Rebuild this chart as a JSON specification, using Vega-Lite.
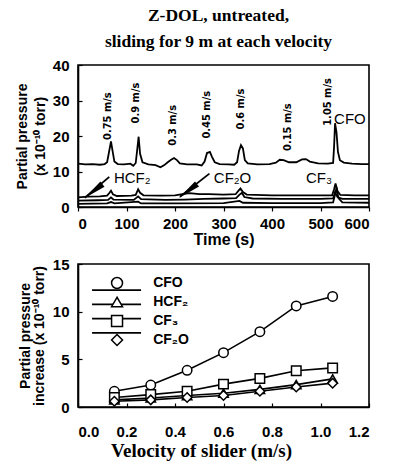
{
  "$schema": "https://vega.github.io/schema/vega-lite/v6.json",
  "background": "white",
  "padding": {"left": 14, "right": 5, "top": 5, "bottom": 5},
  "config": {
    "font": "Liberation Sans",
    "view": {"stroke": "black", "strokeWidth": 1.6},
    "axis": {"domainColor": "black", "domainWidth": 1.6, "tickColor": "black", "tickWidth": 1.2, "labelColor": "black", "titleColor": "black", "grid": false, "labelFontWeight": "bold", "labelFontSize": 15, "titleFontWeight": "bold", "titleFontSize": 14, "labelFont": "Liberation Sans", "titleFont": "Liberation Sans"},
    "concat": {"spacing": 8}
  },
  "datasets": {
    "traces": [
      {"species": "CFO", "time": 0, "value": 12.2}, {"species": "CFO", "time": 15, "value": 12.0}, {"species": "CFO", "time": 30, "value": 12.1}, {"species": "CFO", "time": 45, "value": 11.9}, {"species": "CFO", "time": 55, "value": 12.1}, {"species": "CFO", "time": 60, "value": 12.6}, {"species": "CFO", "time": 64, "value": 15.5}, {"species": "CFO", "time": 68, "value": 18.5}, {"species": "CFO", "time": 71, "value": 16}, {"species": "CFO", "time": 75, "value": 12.8}, {"species": "CFO", "time": 82, "value": 12.1}, {"species": "CFO", "time": 95, "value": 12.0}, {"species": "CFO", "time": 108, "value": 12.2}, {"species": "CFO", "time": 114, "value": 11.6}, {"species": "CFO", "time": 119, "value": 12.4}, {"species": "CFO", "time": 122, "value": 16}, {"species": "CFO", "time": 125, "value": 19.8}, {"species": "CFO", "time": 128, "value": 15}, {"species": "CFO", "time": 133, "value": 12.6}, {"species": "CFO", "time": 145, "value": 12.0}, {"species": "CFO", "time": 160, "value": 11.8}, {"species": "CFO", "time": 170, "value": 11.2}, {"species": "CFO", "time": 178, "value": 11.8}, {"species": "CFO", "time": 185, "value": 12.6}, {"species": "CFO", "time": 192, "value": 13.3}, {"species": "CFO", "time": 198, "value": 13.8}, {"species": "CFO", "time": 204, "value": 13.2}, {"species": "CFO", "time": 210, "value": 12.3}, {"species": "CFO", "time": 225, "value": 12.0}, {"species": "CFO", "time": 245, "value": 12.0}, {"species": "CFO", "time": 255, "value": 11.7}, {"species": "CFO", "time": 261, "value": 12.8}, {"species": "CFO", "time": 266, "value": 15.2}, {"species": "CFO", "time": 272, "value": 15.5}, {"species": "CFO", "time": 276, "value": 14.2}, {"species": "CFO", "time": 282, "value": 12.6}, {"species": "CFO", "time": 292, "value": 12.1}, {"species": "CFO", "time": 310, "value": 12.0}, {"species": "CFO", "time": 322, "value": 11.9}, {"species": "CFO", "time": 328, "value": 12.6}, {"species": "CFO", "time": 332, "value": 15.8}, {"species": "CFO", "time": 336, "value": 17.4}, {"species": "CFO", "time": 340, "value": 16.5}, {"species": "CFO", "time": 344, "value": 13.2}, {"species": "CFO", "time": 350, "value": 12.3}, {"species": "CFO", "time": 370, "value": 12.0}, {"species": "CFO", "time": 395, "value": 12.1}, {"species": "CFO", "time": 408, "value": 12.5}, {"species": "CFO", "time": 416, "value": 13.3}, {"species": "CFO", "time": 424, "value": 13.2}, {"species": "CFO", "time": 435, "value": 12.6}, {"species": "CFO", "time": 450, "value": 12.6}, {"species": "CFO", "time": 462, "value": 13.4}, {"species": "CFO", "time": 470, "value": 13.5}, {"species": "CFO", "time": 478, "value": 12.8}, {"species": "CFO", "time": 495, "value": 12.3}, {"species": "CFO", "time": 515, "value": 12.2}, {"species": "CFO", "time": 526, "value": 12.4}, {"species": "CFO", "time": 528, "value": 17}, {"species": "CFO", "time": 530, "value": 23.6}, {"species": "CFO", "time": 533, "value": 21}, {"species": "CFO", "time": 536, "value": 15.5}, {"species": "CFO", "time": 540, "value": 13.2}, {"species": "CFO", "time": 548, "value": 12.5}, {"species": "CFO", "time": 565, "value": 12.2}, {"species": "CFO", "time": 585, "value": 12.1}, {"species": "CFO", "time": 600, "value": 12.1},
      {"species": "HCF2", "time": 0, "value": 2.7}, {"species": "HCF2", "time": 20, "value": 2.9}, {"species": "HCF2", "time": 45, "value": 3.0}, {"species": "HCF2", "time": 60, "value": 3.2}, {"species": "HCF2", "time": 65, "value": 4.0}, {"species": "HCF2", "time": 68, "value": 4.6}, {"species": "HCF2", "time": 72, "value": 3.6}, {"species": "HCF2", "time": 80, "value": 3.1}, {"species": "HCF2", "time": 110, "value": 3.2}, {"species": "HCF2", "time": 119, "value": 3.4}, {"species": "HCF2", "time": 124, "value": 5.0}, {"species": "HCF2", "time": 128, "value": 4.0}, {"species": "HCF2", "time": 135, "value": 3.3}, {"species": "HCF2", "time": 170, "value": 3.2}, {"species": "HCF2", "time": 200, "value": 3.3}, {"species": "HCF2", "time": 215, "value": 3.6}, {"species": "HCF2", "time": 230, "value": 3.9}, {"species": "HCF2", "time": 250, "value": 3.6}, {"species": "HCF2", "time": 270, "value": 3.6}, {"species": "HCF2", "time": 300, "value": 3.5}, {"species": "HCF2", "time": 325, "value": 3.6}, {"species": "HCF2", "time": 331, "value": 4.6}, {"species": "HCF2", "time": 335, "value": 5.2}, {"species": "HCF2", "time": 340, "value": 4.2}, {"species": "HCF2", "time": 348, "value": 3.5}, {"species": "HCF2", "time": 400, "value": 3.3}, {"species": "HCF2", "time": 460, "value": 3.3}, {"species": "HCF2", "time": 524, "value": 3.3}, {"species": "HCF2", "time": 528, "value": 5.0}, {"species": "HCF2", "time": 531, "value": 6.6}, {"species": "HCF2", "time": 535, "value": 4.5}, {"species": "HCF2", "time": 541, "value": 3.4}, {"species": "HCF2", "time": 570, "value": 3.3}, {"species": "HCF2", "time": 600, "value": 3.3},
      {"species": "CF2O", "time": 0, "value": 1.8}, {"species": "CF2O", "time": 40, "value": 1.9}, {"species": "CF2O", "time": 62, "value": 2.0}, {"species": "CF2O", "time": 68, "value": 2.7}, {"species": "CF2O", "time": 73, "value": 2.1}, {"species": "CF2O", "time": 115, "value": 2.0}, {"species": "CF2O", "time": 124, "value": 3.0}, {"species": "CF2O", "time": 130, "value": 2.2}, {"species": "CF2O", "time": 180, "value": 2.0}, {"species": "CF2O", "time": 220, "value": 2.1}, {"species": "CF2O", "time": 260, "value": 2.3}, {"species": "CF2O", "time": 300, "value": 2.4}, {"species": "CF2O", "time": 326, "value": 2.5}, {"species": "CF2O", "time": 333, "value": 3.5}, {"species": "CF2O", "time": 338, "value": 4.0}, {"species": "CF2O", "time": 343, "value": 2.8}, {"species": "CF2O", "time": 360, "value": 2.4}, {"species": "CF2O", "time": 420, "value": 2.3}, {"species": "CF2O", "time": 500, "value": 2.3}, {"species": "CF2O", "time": 526, "value": 2.4}, {"species": "CF2O", "time": 530, "value": 4.2}, {"species": "CF2O", "time": 535, "value": 2.8}, {"species": "CF2O", "time": 545, "value": 2.3}, {"species": "CF2O", "time": 600, "value": 2.3},
      {"species": "CF3", "time": 0, "value": 0.9}, {"species": "CF3", "time": 60, "value": 1.0}, {"species": "CF3", "time": 68, "value": 1.4}, {"species": "CF3", "time": 75, "value": 1.0}, {"species": "CF3", "time": 124, "value": 1.5}, {"species": "CF3", "time": 130, "value": 1.0}, {"species": "CF3", "time": 200, "value": 1.0}, {"species": "CF3", "time": 300, "value": 1.1}, {"species": "CF3", "time": 333, "value": 1.7}, {"species": "CF3", "time": 340, "value": 1.2}, {"species": "CF3", "time": 400, "value": 1.1}, {"species": "CF3", "time": 500, "value": 1.1}, {"species": "CF3", "time": 526, "value": 1.3}, {"species": "CF3", "time": 530, "value": 3.5}, {"species": "CF3", "time": 533, "value": 5.5}, {"species": "CF3", "time": 537, "value": 2.5}, {"species": "CF3", "time": 545, "value": 1.3}, {"species": "CF3", "time": 600, "value": 1.2}
    ],
    "arrows": [
      {"species": "HCF2", "time": 64.5, "value": 8.5, "time2": 14, "value2": 2.6},
      {"species": "CF2O", "time": 271, "value": 9.4, "time2": 210, "value2": 2.9}
    ],
    "heads": [
      {"species": "HCF2", "time": 38, "value": 5.1},
      {"species": "CF2O", "time": 233, "value": 5.15}
    ],
    "velocities": [
      {"label": "0.75 m/s", "time": 61, "value": 25.6},
      {"label": "0.9 m/s", "time": 120, "value": 29.3},
      {"label": "0.3 m/s", "time": 195, "value": 23},
      {"label": "0.45 m/s", "time": 267, "value": 26},
      {"label": "0.6 m/s", "time": 337, "value": 27.6},
      {"label": "0.15 m/s", "time": 432, "value": 22.5},
      {"label": "1.05 m/s", "time": 515, "value": 29.6}
    ],
    "names": [
      {"label": "HCF₂", "time": 74, "value": 6.8},
      {"label": "CF₂O", "time": 280, "value": 6.8},
      {"label": "CF₃", "time": 470, "value": 6.8},
      {"label": "CFO", "time": 528, "value": 23.4}
    ],
    "increase": [
      {"species": "CFO", "velocity": 0.15, "value": 1.65}, {"species": "CFO", "velocity": 0.3, "value": 2.3}, {"species": "CFO", "velocity": 0.45, "value": 3.85}, {"species": "CFO", "velocity": 0.6, "value": 5.7}, {"species": "CFO", "velocity": 0.75, "value": 7.9}, {"species": "CFO", "velocity": 0.9, "value": 10.6}, {"species": "CFO", "velocity": 1.05, "value": 11.6},
      {"species": "HCF₂", "velocity": 0.15, "value": 0.75}, {"species": "HCF₂", "velocity": 0.3, "value": 0.95}, {"species": "HCF₂", "velocity": 0.45, "value": 1.2}, {"species": "HCF₂", "velocity": 0.6, "value": 1.45}, {"species": "HCF₂", "velocity": 0.75, "value": 1.85}, {"species": "HCF₂", "velocity": 0.9, "value": 2.35}, {"species": "HCF₂", "velocity": 1.05, "value": 2.95},
      {"species": "CF₃", "velocity": 0.15, "value": 1.0}, {"species": "CF₃", "velocity": 0.3, "value": 1.3}, {"species": "CF₃", "velocity": 0.45, "value": 1.65}, {"species": "CF₃", "velocity": 0.6, "value": 2.4}, {"species": "CF₃", "velocity": 0.75, "value": 3.0}, {"species": "CF₃", "velocity": 0.9, "value": 3.8}, {"species": "CF₃", "velocity": 1.05, "value": 4.1},
      {"species": "CF₂O", "velocity": 0.15, "value": 0.6}, {"species": "CF₂O", "velocity": 0.3, "value": 0.75}, {"species": "CF₂O", "velocity": 0.45, "value": 1.0}, {"species": "CF₂O", "velocity": 0.6, "value": 1.2}, {"species": "CF₂O", "velocity": 0.75, "value": 1.65}, {"species": "CF₂O", "velocity": 0.9, "value": 2.1}, {"species": "CF₂O", "velocity": 1.05, "value": 2.5}
    ]
  },
  "vconcat": [
    {
      "width": 291,
      "height": 142,
      "title": {"text": ["Z-DOL, untreated,", "sliding for 9 m at each velocity"], "font": "Liberation Serif", "fontSize": 17.5, "fontWeight": "bold", "lineHeight": 26, "anchor": "middle", "frame": "group", "offset": 8, "dx": -5, "color": "black"},
      "encoding": {
        "x": {"field": "time", "type": "quantitative", "scale": {"domain": [0, 600], "nice": false}, "axis": {"values": [0, 100, 200, 300, 400, 500, 600], "title": "Time (s)", "titleFontSize": 16, "tickSize": 4, "labelPadding": 5, "titlePadding": 0}},
        "y": {"field": "value", "type": "quantitative", "scale": {"domain": [0, 40], "nice": false}, "axis": {"values": [0, 10, 20, 30, 40], "title": ["Partial pressure", "(x 10⁻¹⁰ torr)"], "titleLineHeight": 18, "tickSize": -4, "labelPadding": 13, "titlePadding": 5}}
      },
      "layer": [
        {"data": {"name": "traces"}, "mark": {"type": "line", "color": "black", "strokeWidth": 1.8}, "encoding": {"detail": {"field": "species"}}},
        {"data": {"name": "arrows"}, "mark": {"type": "rule", "color": "black", "strokeWidth": 1.8}, "encoding": {"x2": {"field": "time2"}, "y2": {"field": "value2"}}},
        {"data": {"name": "heads"}, "mark": {"type": "point", "shape": "wedge", "angle": 232, "size": 700, "filled": true, "color": "black", "opacity": 1}},
        {"data": {"name": "velocities"}, "mark": {"type": "text", "angle": 270, "align": "center", "baseline": "middle", "font": "Liberation Sans Narrow, DejaVu Sans Condensed, Liberation Sans", "fontWeight": "bold", "fontSize": 11, "color": "black"}, "encoding": {"text": {"field": "label"}}},
        {"data": {"name": "names"}, "mark": {"type": "text", "align": "left", "baseline": "alphabetic", "fontSize": 15, "color": "black"}, "encoding": {"text": {"field": "label"}}}
      ]
    },
    {
      "width": 291,
      "height": 143,
      "data": {"name": "increase"},
      "encoding": {
        "x": {"field": "velocity", "type": "quantitative", "scale": {"domain": [0, 1.2], "nice": false}, "axis": {"values": [0, 0.2, 0.4, 0.6, 0.8, 1.0, 1.2], "format": ".1f", "title": "Velocity of slider (m/s)", "titleFont": "Liberation Serif", "titleFontSize": 19, "titleX": 123, "titleAlign": "center", "tickSize": -4, "labelPadding": 21, "titlePadding": 2}}
      },
      "layer": [
        {"mark": {"type": "line", "color": "black", "strokeWidth": 1.6},
          "encoding": {
            "y": {"field": "value", "type": "quantitative", "scale": {"domain": [0, 15], "nice": false}, "axis": {"values": [0, 5, 10, 15], "title": ["Partial pressure", "increase (x 10⁻¹⁰ torr)"], "titleLineHeight": 14, "tickSize": -4, "labelPadding": 13, "titlePadding": 6}},
            "detail": {"field": "species"}
          }
        },
        {"mark": {"type": "point", "filled": true, "fill": "white", "stroke": "black", "strokeWidth": 1.5, "size": 90, "opacity": 1},
          "encoding": {
            "y": {"field": "value", "type": "quantitative", "scale": {"domain": [0, 15], "nice": false}, "axis": null},
            "shape": {"field": "species", "type": "nominal", "scale": {"domain": ["CFO", "HCF₂", "CF₃", "CF₂O"], "range": ["circle", "triangle-up", "square", "diamond"]}, "legend": null}
          }
        },
        {"transform": [{"filter": "datum.velocity == 0.15"}],
          "mark": {"type": "rule", "color": "black", "strokeWidth": 1.6},
          "encoding": {
            "x": {"datum": 0.058, "type": "quantitative"},
            "x2": {"datum": 0.26},
            "y": {"field": "species", "type": "nominal", "scale": {"domain": ["CFO", "HCF₂", "CF₃", "CF₂O"], "range": [19, 76], "padding": 0}, "axis": null}
          }
        },
        {"transform": [{"filter": "datum.velocity == 0.15"}],
          "mark": {"type": "point", "filled": true, "fill": "white", "stroke": "black", "strokeWidth": 1.5, "size": 120, "opacity": 1},
          "encoding": {
            "x": {"datum": 0.161, "type": "quantitative"},
            "y": {"field": "species", "type": "nominal", "scale": {"domain": ["CFO", "HCF₂", "CF₃", "CF₂O"], "range": [19, 76], "padding": 0}, "axis": null},
            "shape": {"field": "species", "type": "nominal", "legend": null}
          }
        },
        {"transform": [{"filter": "datum.velocity == 0.15"}],
          "mark": {"type": "text", "align": "left", "baseline": "middle", "fontSize": 14, "fontWeight": "bold", "color": "black"},
          "encoding": {
            "x": {"datum": 0.31, "type": "quantitative"},
            "y": {"field": "species", "type": "nominal", "scale": {"domain": ["CFO", "HCF₂", "CF₃", "CF₂O"], "range": [19, 76], "padding": 0}, "axis": null},
            "text": {"field": "species"}
          }
        }
      ],
      "resolve": {"scale": {"y": "independent"}, "axis": {"y": "independent"}}
    }
  ]
}
